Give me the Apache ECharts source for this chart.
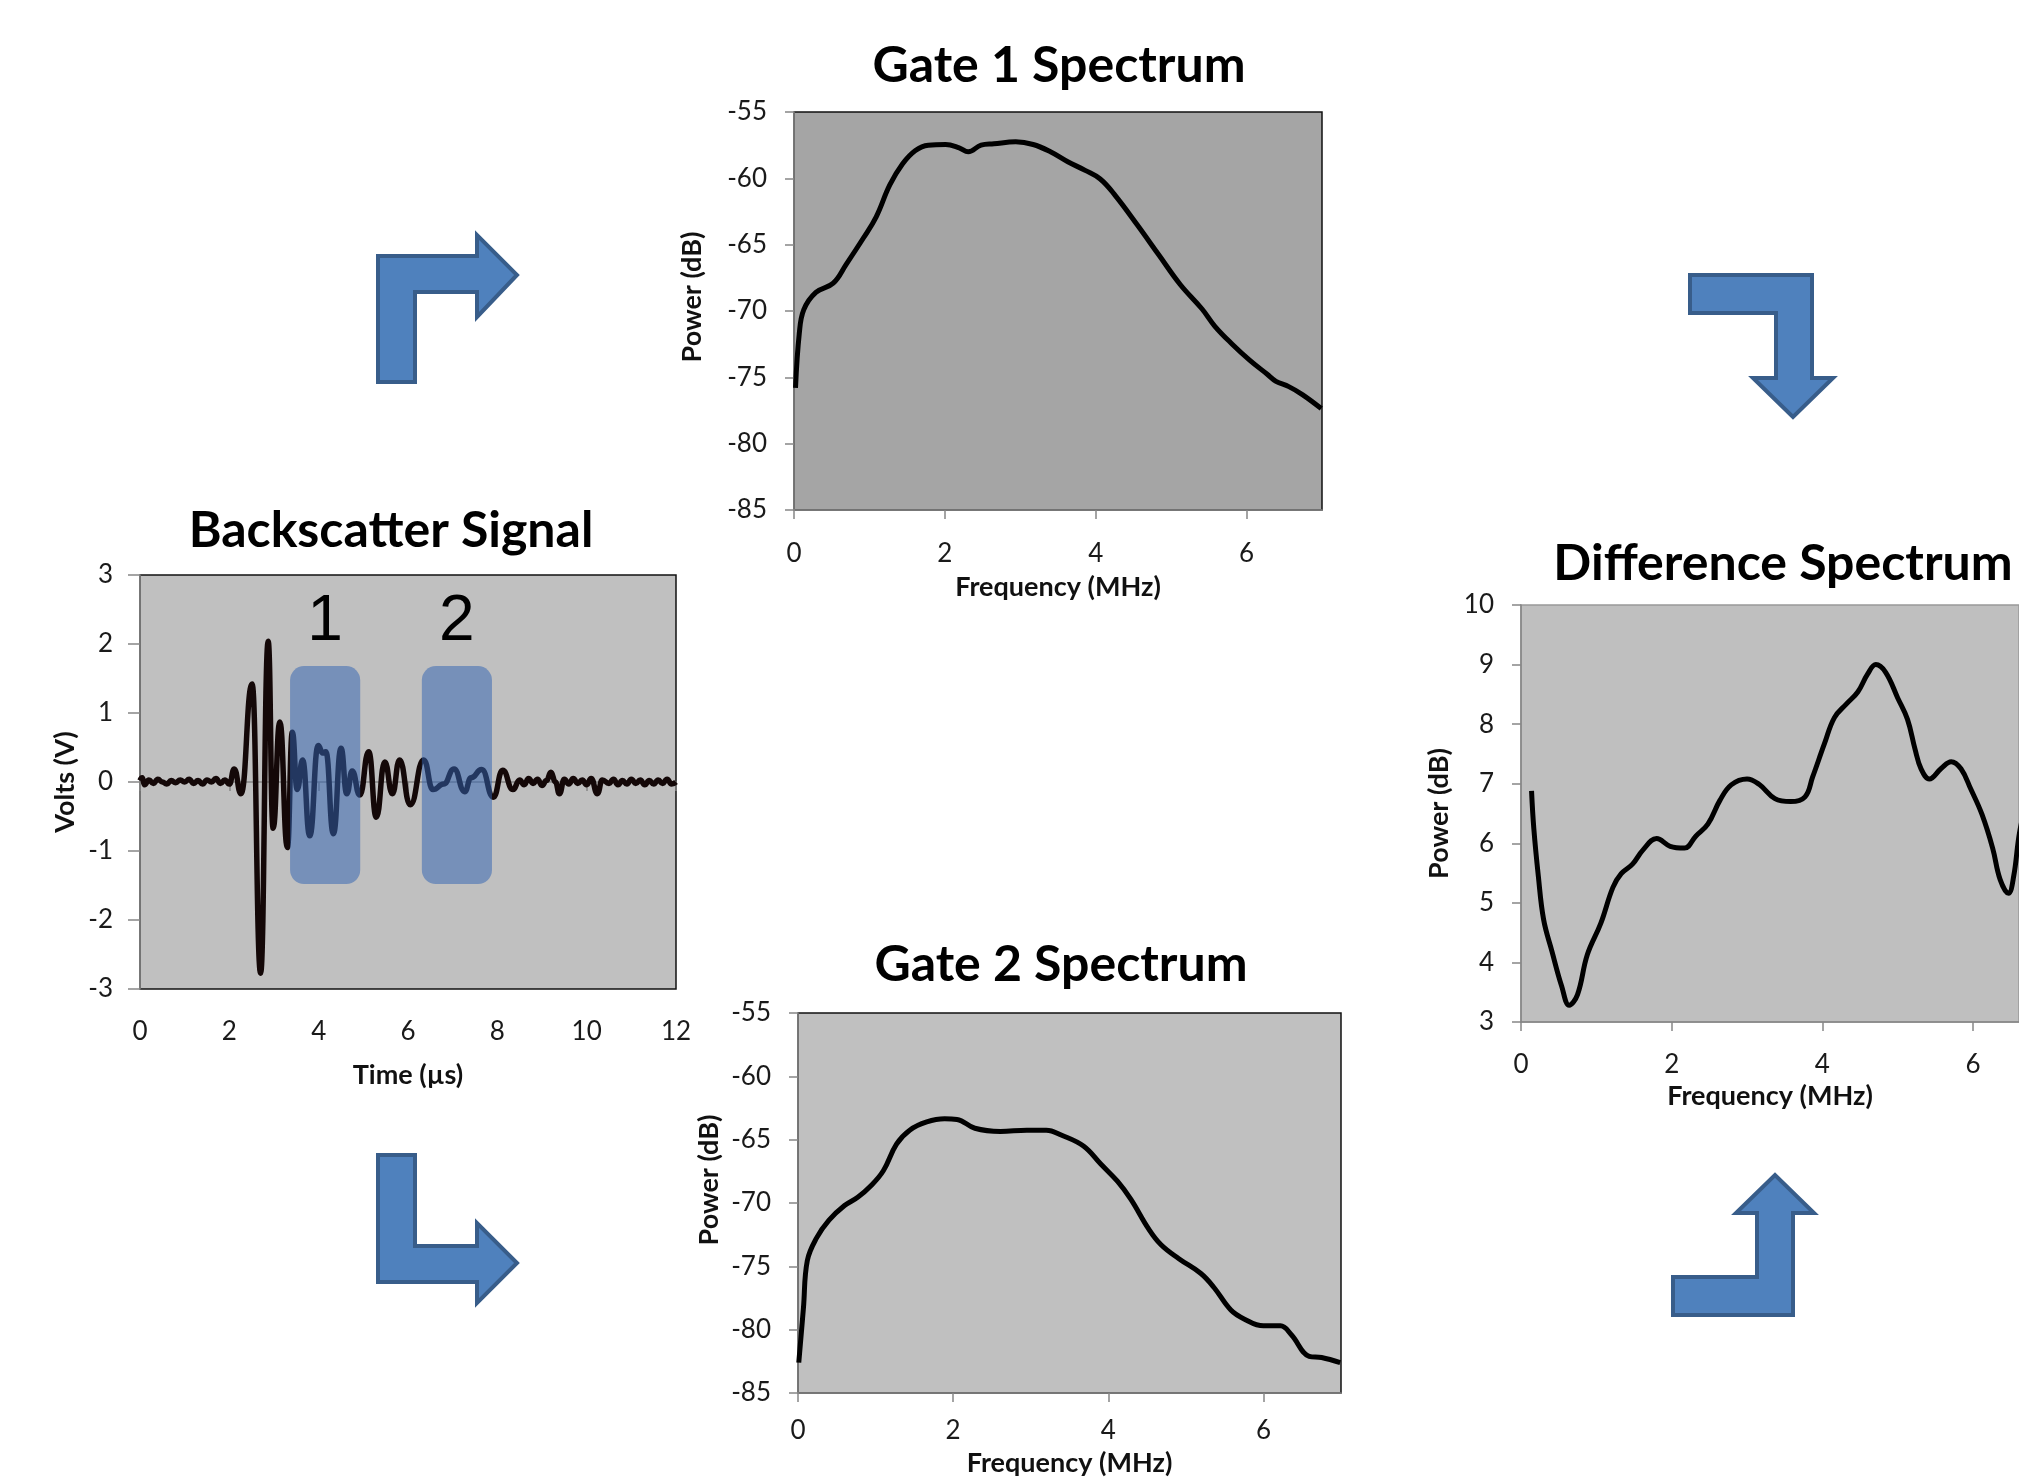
<!DOCTYPE html>
<html>
<head>
<meta charset="utf-8">
<script src="https://cdn.jsdelivr.net/npm/echarts@6/dist/echarts.min.js"></script>
<style>
  html, body { margin: 0; padding: 0; background: #fff; }
  #chart { width: 2019px; height: 1478px; }
</style>
</head>
<body>
<div id="chart"></div>
<script>
// backscatter signal (time in us, volts)
const signalTime = [0.00, 0.05, 0.10, 0.20, 0.30, 0.40, 0.50, 0.60, 0.70, 0.80, 0.90, 1.00, 1.10, 1.20, 1.30, 1.40, 1.50, 1.60, 1.70, 1.80, 1.90, 2.00,
  2.11, 2.26, 2.51, 2.70, 2.87, 2.98, 3.13, 3.30, 3.41, 3.52, 3.64, 3.80, 3.99, 4.09, 4.16, 4.33, 4.50, 4.63, 4.75, 4.92,
  5.12, 5.29, 5.48, 5.65, 5.81, 6.05, 6.35, 6.56, 6.80, 7.03, 7.27, 7.41, 7.65, 7.91, 8.12, 8.35,
  8.50, 8.60, 8.70, 8.80, 8.90, 9.00, 9.10, 9.20, 9.30, 9.39, 9.50, 9.60, 9.70, 9.80, 9.90, 10.00, 10.10, 10.24, 10.35,
  10.50, 10.60, 10.70, 10.80, 10.90, 11.00, 11.10, 11.20, 11.30, 11.40, 11.50, 11.60, 11.70, 11.80, 11.90, 12.00]
const signalVolts = [0.02, 0.06, -0.04, 0.03, -0.02, 0.04, 0.00, -0.03, 0.02, -0.01, 0.03, 0.00, 0.04, -0.02, 0.02, -0.03, 0.03, 0.00, 0.05, -0.02, 0.03, -0.03,
  0.19, -0.17, 1.42, -2.77, 2.04, -0.67, 0.87, -0.95, 0.72, -0.11, 0.32, -0.78, 0.53, 0.42, 0.44, -0.75, 0.49, -0.17, 0.16, -0.19,
  0.44, -0.51, 0.29, -0.17, 0.32, -0.33, 0.32, -0.11, -0.03, 0.19, -0.14, 0.06, 0.18, -0.22, 0.17, -0.11,
  0.03, -0.04, 0.05, -0.02, 0.04, -0.05, 0.02, 0.14, 0.00, -0.17, 0.04, -0.03, 0.05, -0.02, 0.03, -0.04, 0.05, -0.17, 0.03,
  -0.02, 0.04, -0.04, 0.02, -0.03, 0.04, -0.02, 0.03, -0.04, 0.02, -0.03, 0.03, -0.02, 0.04, -0.03, 0.00]

// gate windows: start, end (us), top, bottom (V)
const gateNames = ['1', '2']
const gateStart = [3.36, 6.31]
const gateEnd = [4.93, 7.88]
const gateTop = [1.68, 1.68]
const gateBottom = [-1.48, -1.48]
const gateLabelVolt = 2.32

// gate 1 spectrum
const gate1Freq = [0.02, 0.07, 0.13, 0.29, 0.52, 0.69, 0.92, 1.09, 1.27, 1.44, 1.61, 1.78, 2.01, 2.19, 2.31, 2.48, 2.65, 2.94, 3.17, 3.40, 3.63, 3.86, 4.06, 4.26, 4.55, 4.84, 5.12, 5.41, 5.58, 5.81, 6.04, 6.27, 6.39, 6.56, 6.74, 6.99]
const gate1Power = [-75.8, -71.7, -69.9, -68.6, -67.9, -66.5, -64.5, -62.9, -60.5, -58.9, -57.9, -57.5, -57.45, -57.7, -58.0, -57.5, -57.4, -57.25, -57.45, -58.0, -58.75, -59.4, -60.05, -61.3, -63.5, -65.8, -68.0, -69.85, -71.15, -72.5, -73.7, -74.75, -75.3, -75.7, -76.3, -77.35]

// gate 2 spectrum
const gate2Freq = [0.01, 0.07, 0.12, 0.24, 0.40, 0.60, 0.77, 0.93, 1.10, 1.27, 1.44, 1.66, 1.89, 2.05, 2.28, 2.61, 2.95, 3.20, 3.40, 3.68, 3.90, 4.12, 4.29, 4.52, 4.68, 4.91, 5.19, 5.36, 5.58, 5.75, 6.00, 6.22, 6.36, 6.59, 6.75, 6.99]
const gate2Power = [-82.6, -78.3, -74.55, -72.75, -71.35, -70.2, -69.55, -68.7, -67.45, -65.35, -64.25, -63.6, -63.35, -63.4, -64.1, -64.35, -64.25, -64.25, -64.65, -65.5, -66.9, -68.3, -69.7, -72.05, -73.3, -74.4, -75.55, -76.65, -78.45, -79.15, -79.7, -79.7, -80.4, -82.1, -82.2, -82.6]

// difference spectrum (right part runs off the page)
const diffFreq = [0.14, 0.17, 0.23, 0.30, 0.41, 0.54, 0.64, 0.75, 0.88, 1.06, 1.22, 1.33, 1.48, 1.62, 1.80, 1.98, 2.17, 2.32, 2.48, 2.64, 2.79, 3.00, 3.16, 3.37, 3.58, 3.77, 3.87, 4.03, 4.16, 4.32, 4.47, 4.60, 4.71, 4.84, 5.00, 5.13, 5.23, 5.31, 5.42, 5.58, 5.71, 5.84, 5.97, 6.12, 6.26, 6.36, 6.47, 6.54, 6.62, 6.75]
const diffPower = [6.88, 6.25, 5.45, 4.72, 4.19, 3.60, 3.28, 3.46, 4.13, 4.66, 5.26, 5.49, 5.65, 5.89, 6.08, 5.95, 5.92, 6.12, 6.32, 6.72, 6.98, 7.08, 6.99, 6.75, 6.70, 6.78, 7.11, 7.68, 8.11, 8.34, 8.54, 8.84, 9.00, 8.87, 8.44, 8.08, 7.58, 7.25, 7.08, 7.26, 7.37, 7.25, 6.91, 6.48, 5.92, 5.39, 5.16, 5.45, 6.20, 6.90]

const freqTicks = [0, 2, 4, 6]

const pairs = (xs, ys) => xs.map((x, i) => [x, ys[i]])

const FONT = 'Lato'
const tickStyle = { fontFamily: FONT, fontSize: 26, color: '#1a1a1a' }
const nameStyle = { fontFamily: FONT, fontSize: 27, fontWeight: 'bold', color: '#111' }
const axisLine = { show: true, lineStyle: { color: '#868686', width: 1.5 } }
const axisTick = { show: true, length: 9, lineStyle: { color: '#868686', width: 1.5 } }

function title (text, x, y) {
  return {
    text: text,
    left: x,
    top: y - 28,
    textAlign: 'center',
    padding: 0,
    textStyle: { fontFamily: FONT, fontSize: 50, fontWeight: 'bold', color: '#000' }
  }
}

function xAxis (idx, min, max, name, gap, margin, custom) {
  const ax = {
    type: 'value', gridIndex: idx, min: min, max: max, interval: 2,
    name: name, nameLocation: 'middle', nameGap: gap, nameTextStyle: nameStyle,
    axisLine: axisLine, axisTick: Object.assign({}, axisTick),
    axisLabel: Object.assign({ margin: margin }, tickStyle),
    splitLine: { show: false }
  }
  if (custom) {
    ax.axisTick.customValues = custom
    ax.axisLabel.customValues = custom
  }
  return ax
}

function yAxis (idx, min, max, interval, gap, shiftUp) {
  const ns = Object.assign({}, nameStyle)
  if (shiftUp) ns.padding = [0, 0, 0, shiftUp * 2]
  return {
    type: 'value', gridIndex: idx, min: min, max: max, interval: interval,
    name: 'Power (dB)', nameLocation: 'middle', nameGap: gap, nameTextStyle: ns,
    axisLine: axisLine, axisTick: axisTick,
    axisLabel: Object.assign({ margin: 27 }, tickStyle),
    splitLine: { show: false }
  }
}

function arrow (points) {
  return {
    type: 'polygon',
    shape: { points: points },
    style: { fill: '#4F81BD', stroke: '#385D8A', lineWidth: 4 },
    z: 100
  }
}

const chart = echarts.init(document.getElementById('chart'), null, { renderer: 'canvas' })

const bsY = yAxis(0, -3, 3, 1, 61)
bsY.name = 'Volts (V)'
bsY.axisTick = Object.assign({}, axisTick, { length: 12 })

chart.setOption({
  backgroundColor: '#fff',
  animation: false,
  title: [
    title('Backscatter Signal', 391, 534),
    title('Gate 1 Spectrum', 1059, 69),
    title('Gate 2 Spectrum', 1061, 968),
    title('Difference Spectrum', 1783, 567)
  ],
  grid: [
    { left: 140, top: 575, width: 536, height: 414, show: true, backgroundColor: '#C0C0C0', borderColor: '#111', borderWidth: 1.5 },
    { left: 794, top: 112, width: 528, height: 398, show: true, backgroundColor: '#A5A5A5', borderColor: '#111', borderWidth: 1.5 },
    { left: 798, top: 1013, width: 543, height: 384, show: true, backgroundColor: '#C0C0C0', borderColor: '#111', borderWidth: 1.5 },
    { left: 1521, top: 605, right: 0, height: 417, show: true, backgroundColor: '#BFBFBF', borderColor: '#999', borderWidth: 1.5 }
  ],
  xAxis: [
    xAxis(0, 0, 12, 'Time (\u00b5s)', 73, 30),
    xAxis(1, 0, 7, 'Frequency (MHz)', 64, 31, freqTicks),
    xAxis(2, 0, 7, 'Frequency (MHz)', 57, 25, freqTicks),
    xAxis(3, 0, 6.61, 'Frequency (MHz)', 61, 30, freqTicks)
  ],
  yAxis: [
    bsY,
    yAxis(1, -85, -55, 5, 88, 14),
    yAxis(2, -85, -55, 5, 75, 23),
    yAxis(3, 3, 10, 1, 68)
  ],
  series: [
    {
      type: 'line', xAxisIndex: 0, yAxisIndex: 0,
      data: pairs(signalTime, signalVolts),
      showSymbol: false, smooth: 0.5, smoothMonotone: 'x',
      lineStyle: { color: '#140808', width: 5.5 },
      z: 2
    },
    {
      type: 'custom', xAxisIndex: 0, yAxisIndex: 0,
      data: gateNames.map((n, i) => [gateStart[i], gateEnd[i], gateTop[i], gateBottom[i]]),
      renderItem: function (params, api) {
        const p0 = api.coord([api.value(0), api.value(2)])
        const p1 = api.coord([api.value(1), api.value(3)])
        const lab = api.coord([(api.value(0) + api.value(1)) / 2, gateLabelVolt])
        return {
          type: 'group',
          children: [
            {
              type: 'rect',
              shape: { x: p0[0], y: p0[1], width: p1[0] - p0[0], height: p1[1] - p0[1], r: 14 },
              style: { fill: 'rgba(50,100,178,0.52)' }
            },
            {
              type: 'text',
              x: lab[0], y: lab[1],
              style: { text: gateNames[params.dataIndex], font: '64px "Liberation Sans"', fill: '#000', align: 'center', verticalAlign: 'middle' }
            }
          ]
        }
      },
      z: 5
    },
    {
      type: 'line', xAxisIndex: 1, yAxisIndex: 1,
      data: pairs(gate1Freq, gate1Power),
      showSymbol: false, smooth: 0.4,
      lineStyle: { color: '#000', width: 5 }
    },
    {
      type: 'line', xAxisIndex: 2, yAxisIndex: 2,
      data: pairs(gate2Freq, gate2Power),
      showSymbol: false, smooth: 0.4,
      lineStyle: { color: '#000', width: 5 }
    },
    {
      type: 'line', xAxisIndex: 3, yAxisIndex: 3,
      data: pairs(diffFreq, diffPower),
      showSymbol: false, smooth: 0.4,
      lineStyle: { color: '#000', width: 5 }
    }
  ],
  graphic: [
    arrow([[378, 382], [378, 256], [477, 256], [477, 235], [517, 275], [477, 317], [477, 292], [415, 292], [415, 382]]),
    arrow([[378, 1155], [415, 1155], [415, 1246], [477, 1246], [477, 1223], [517, 1263], [477, 1303], [477, 1282], [378, 1282]]),
    arrow([[1690, 275], [1812, 275], [1812, 378], [1833, 378], [1793, 417], [1753, 378], [1776, 378], [1776, 313], [1690, 313]]),
    arrow([[1673, 1315], [1673, 1277], [1757, 1277], [1757, 1213], [1736, 1213], [1775, 1175], [1814, 1213], [1793, 1213], [1793, 1315]])
  ]
})
</script>
</body>
</html>
